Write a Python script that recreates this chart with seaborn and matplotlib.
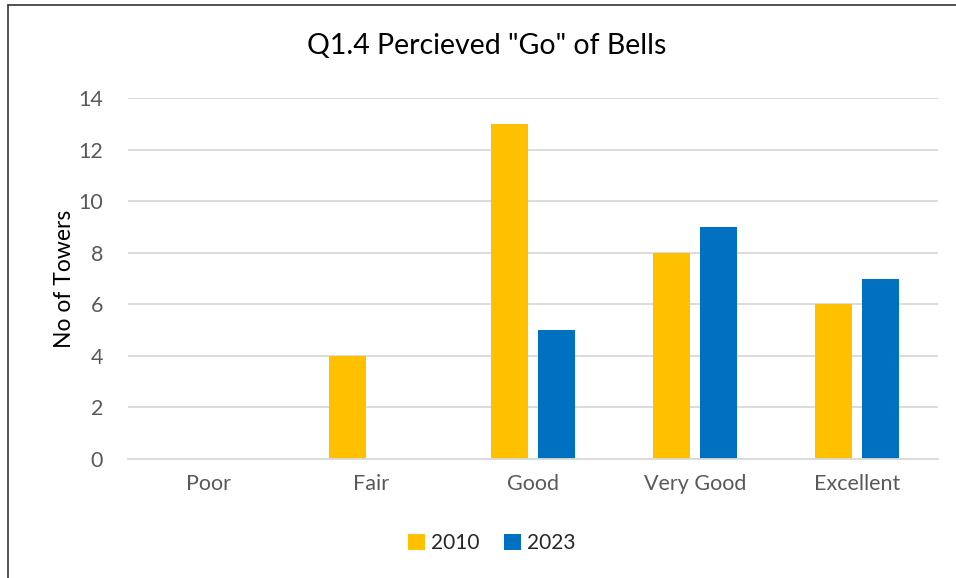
import pandas as pd
import matplotlib.pyplot as plt
import seaborn as sns

categories = ["Poor", "Fair", "Good", "Very Good", "Excellent"]
towers_2010 = [0, 4, 13, 8, 6]
towers_2023 = [0, 0, 5, 9, 7]
years = ["2010", "2023"]
y_ticks = [0, 2, 4, 6, 8, 10, 12, 14]

df = pd.DataFrame({
    "rating": categories * 2,
    "towers": towers_2010 + towers_2023,
    "year": [years[0]] * len(categories) + [years[1]] * len(categories),
})

sns.set_style("white")
plt.rcParams["font.family"] = ["Lato", "DejaVu Sans"]

fig = plt.figure(figsize=(9.56, 5.78), dpi=100)
ax = fig.add_axes([128 / 956, 1 - 459 / 578, 810 / 956, 361 / 578])

sns.barplot(data=df, x="rating", y="towers", hue="year", order=categories,
            palette=["#FFC000", "#0070C0"], width=0.58, gap=0.21,
            saturation=1, linewidth=0, ax=ax, legend=True)

ax.set_ylim(0, 14)
ax.set_xlim(-0.5, 4.5)
ax.set_yticks(y_ticks)
ax.yaxis.grid(True, color="#D9D9D9", linewidth=1.3)
ax.set_axisbelow(True)
for s in ["top", "right", "left"]:
    ax.spines[s].set_visible(False)
ax.spines["bottom"].set_color("#D9D9D9")
ax.spines["bottom"].set_linewidth(1.3)
ax.tick_params(axis="both", length=0, labelsize=15.5, labelcolor="#595959")
ax.tick_params(axis="x", pad=11)
ax.tick_params(axis="y", pad=18)
ax.set_xlabel("")
ax.set_ylabel("No of Towers", fontsize=16.5, color="#000000", labelpad=2)

fig.text(487 / 956, 1 - 46 / 578, 'Q1.4 Percieved "Go" of Bells', fontsize=20.5,
         ha="center", va="center", color="#000000")

ax.legend(loc="center", bbox_to_anchor=(492 / 956, 1 - 543 / 578),
          bbox_transform=fig.transFigure, ncol=2, frameon=False,
          fontsize=15, handlelength=0.8, handleheight=0.8,
          handletextpad=0.3, columnspacing=1.2)

# outer chart border (left and top edges visible)
fig.add_artist(plt.Line2D([7.5 / 956, 7.5 / 956], [0, 1 - 5 / 578], color="#333333",
                          linewidth=1.2, transform=fig.transFigure))
fig.add_artist(plt.Line2D([7.5 / 956, 1], [1 - 5 / 578, 1 - 5 / 578], color="#333333",
                          linewidth=1.2, transform=fig.transFigure))

fig.savefig("out.png", dpi=100, facecolor="white")
